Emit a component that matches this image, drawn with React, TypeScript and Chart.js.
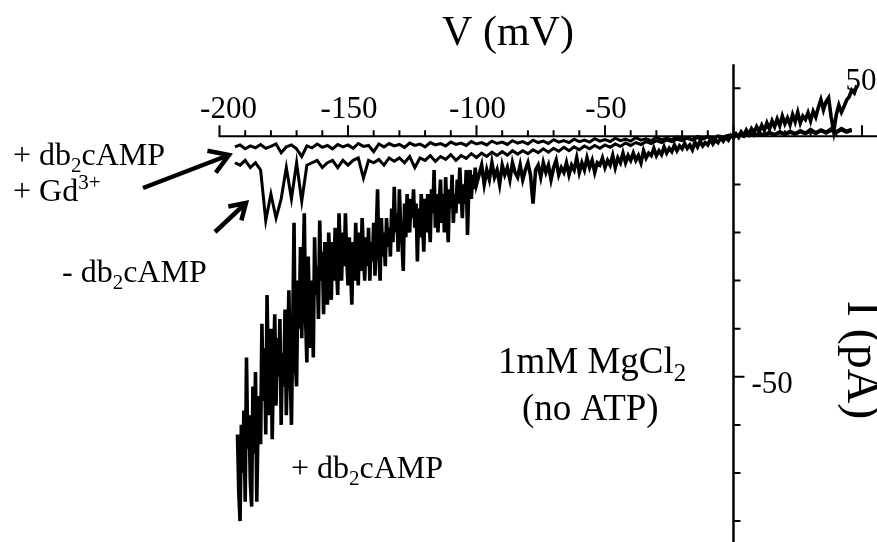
import React, { useEffect, useRef } from "react";
import { Chart, registerables } from "chart.js";

Chart.register(...registerables);

// ---------- data (V in mV, I in pA) ----------
// "+ db2cAMP" trace
const traceC_V = [
  -193, -192.5, -192, -191.5, -191, -190.5, -190, -189.5, -189, -188.5,
  -188, -187.5, -187, -186.5, -186, -185.5, -185, -184.5, -184, -183.5,
  -183, -182.5, -182, -181.5, -181, -180.5, -180, -179.5, -179, -178.5,
  -178, -177.5, -177, -176.5, -176, -175.5, -175, -174.5, -174, -173.5,
  -173, -172.5, -172, -171.5, -171, -170.5, -170, -169.5, -169, -168.5,
  -168, -167.5, -167, -166.5, -166, -165.5, -165, -164.5, -164, -163.5,
  -163, -162.5, -162, -161.5, -161, -160.5, -160, -159.5, -159, -158.5,
  -158, -157.5, -157, -156.5, -156, -155.5, -155, -154.5, -154, -153.5,
  -153, -152.5, -152, -151.5, -151, -150.5, -150, -149.5, -149, -148.5,
  -148, -147.5, -147, -146.5, -146, -145.5, -145, -144.5, -144, -143.5,
  -143, -142.5, -142, -141.5, -141, -140.5, -140, -139.5, -139, -138.5,
  -138, -137.5, -137, -136.5, -136, -135.5, -135, -134.5, -134, -133.5,
  -133, -132.5, -132, -131.5, -131, -130.5, -130, -129.5, -129, -128.5,
  -128, -127.5, -127, -126.5, -126, -125.5, -125, -124.5, -124, -123.5,
  -123, -122.5, -122, -121.5, -121, -120.5, -120, -119.5, -119, -118.5,
  -118, -117.5, -117, -116.5, -116, -115.5, -115, -114.5, -114, -113.5,
  -113, -112.5, -112, -111.5, -111, -110.5, -110, -109.5, -109, -108.5,
  -108, -107.5, -107, -106.5, -106, -105.5, -105, -104.5, -104, -103.5,
  -103, -102.5, -102, -101.5, -101, -100.5, -100,
  -99, -98, -97, -96, -95, -94, -93, -92, -91, -90,
  -89, -88, -87, -86, -85, -84, -83, -82, -81, -80,
  -79, -78, -77, -76, -75, -74, -73, -72, -71, -70,
  -69, -68, -67, -66, -65, -64, -63, -62, -61, -60,
  -59, -58, -57, -56, -55, -54, -53, -52, -51, -50,
  -49, -48, -47, -46, -45, -44, -43, -42, -41, -40,
  -39, -38, -37, -36, -35, -34, -33, -32, -31, -30,
  -29, -28, -27, -26, -25, -24, -23, -22, -21, -20,
  -19, -18, -17, -16, -15, -14, -13, -12, -11, -10,
  -9, -8, -7, -6, -5, -4, -3, -2, -1, 0,
  1, 2, 3, 4, 5, 6, 7, 8, 9, 10,
  11, 12, 13, 14, 15, 16, 17, 18, 19, 20,
  21, 22, 23, 24, 25, 26, 27, 28, 29, 30,
  31, 32, 33, 34, 35, 36, 37, 38, 39, 40,
  41, 42, 43, 44, 45, 46, 47, 48,
];
const traceC_I = [
  -62, -74, -80, -60, -70, -57, -76, -46, -65, -58,
  -72, -77, -52, -66, -49, -76, -60, -54, -64, -39,
  -55, -44, -62, -33, -50, -58, -40, -63, -48, -37,
  -56, -42, -50, -38, -60, -45, -52, -36, -58, -44,
  -32, -50, -60, -40, -18, -47, -52, -30, -40, -23,
  -42, -28, -16, -38, -47, -25, -35, -44, -30, -46,
  -21, -33, -27, -38, -17.5, -30, -24, -37, -22, -32,
  -35, -20, -28, -34, -22, -30, -19, -27, -33, -16,
  -24, -30, -20, -27, -16, -25, -31, -21, -28, -35,
  -22, -30, -18, -26, -31, -20, -28, -17, -24, -30,
  -21, -27, -19, -30, -22, -26, -18, -29, -20, -11,
  -24, -30, -17, -25, -20, -27, -17, -23, -19, -25,
  -15, -22, -10.5, -20, -16, -24, -11, -19, -22, -28,
  -14, -21, -12, -18, -20, -13, -17, -11, -19, -14,
  -26, -15, -21, -12, -18, -24, -13, -20, -12, -17,
  -22, -11, -16, -7, -19, -12, -20, -14, -9, -18,
  -12, -20, -8.5, -16, -22, -11, -15, -8, -18, -12,
  -16, -9, -14, -6.5, -12, -17, -10, -14, -7, -20.5,
  -11, -7, -13, -8, -11, -6.5, -10,
  -8, -6, -10, -7, -9, -5.5, -8.5, -7, -10, -6,
  -8, -6.5, -9, -5.5, -7.5, -8.5, -6, -9, -7, -5.5,
  -8, -14, -7, -6, -8.5, -5.5, -7.5, -6, -9, -6.5,
  -5, -8, -6.5, -7.5, -5.5, -8, -6, -7, -4.5, -7.5,
  -5.5, -7, -4.5, -6.5, -5, -7.5, -5.5, -6, -4.5, -6.5,
  -5, -6, -4, -6.5, -4.5, -5.5, -3.5, -5.5, -4, -5,
  -3.5, -5, -4, -5.5, -3, -4.5, -3.5, -4, -2.5, -4,
  -3, -3.8, -2.2, -3.5, -2.5, -3.2, -1.8, -3, -2, -2.6,
  -1.5, -2.5, -1.8, -2.8, -1.2, -2.2, -1, -2, -1.3, -1.8,
  -0.6, -1.6, -0.8, -1.3, -0.3, -1, -0.2, -0.8, 0.2, -0.3,
  0.5, -0.2, 0.9, 0.2, 1.3, 0.4, 1.6, 0.8, 2, 1,
  2.3, 1.2, 2.8, 1.5, 3.2, 2, 3.6, 2.2, 4.2, 2.6,
  3.8, 2.4, 4.5, 3, 5, 2.8, 4.2, 3.5, 4.9, 3.2,
  5.2, 4, 6, 7.6, 5.5, 7.2, 8, 4, 1, 4.5,
  6.5, 5, 6.2, 7.5, 8.2, 9.6, 9, 10.6,
];

// voltage samples shared by the "- db2cAMP" and "+ db2cAMP + Gd3+" traces
const vGridAB = [
  -194, -192, -190, -188, -186, -184, -182, -180, -178, -176,
  -174, -172, -170, -168, -166, -164, -162, -160, -158, -156,
  -154, -152, -150, -148, -146, -144, -142, -140, -138, -136,
  -134, -132, -130, -128, -126, -124, -122, -120, -118, -116,
  -114, -112, -110, -108, -106, -104, -102, -100, -98, -96,
  -94, -92, -90, -88, -86, -84, -82, -80, -78, -76,
  -74, -72, -70, -68, -66, -64, -62, -60, -58, -56,
  -54, -52, -50, -48, -46, -44, -42, -40, -38, -36,
  -34, -32, -30, -28, -26, -24, -22, -20, -18, -16,
  -14, -12, -10, -8, -6, -4, -2, 0, 2, 4,
  6, 8, 10, 12, 14, 16, 18, 20, 22, 24,
  26, 28, 30, 32, 34, 36, 38, 40, 42, 44, 46,
];
// "- db2cAMP" trace
const traceB_I = [
  -5.5, -6, -5, -6.5, -5.5, -7, -17.5, -12, -17, -13,
  -6.5, -13, -5.5, -13.5, -6, -5.5, -5, -6.5, -5.5, -5,
  -6.5, -5, -6, -5, -4.5, -8.7, -5, -5.5, -4.8, -6,
  -4.5, -5.2, -4.5, -5.5, -4.2, -6.5, -4.5, -5, -4, -5.2,
  -4.2, -4.8, -3.8, -5, -4, -4.6, -3.6, -4.4, -3.5, -4.2,
  -3.3, -4, -3.2, -3.9, -3, -3.7, -3, -3.6, -2.8, -3.4,
  -2.6, -3.3, -2.5, -3.1, -2.3, -3, -2.2, -2.8, -2, -2.6,
  -1.9, -2.5, -1.8, -2.3, -1.6, -2.1, -1.4, -1.9, -1.3, -1.7,
  -1.1, -1.5, -0.9, -1.3, -0.8, -1.1, -0.6, -0.9, -0.4, -0.8,
  -0.3, -0.6, -0.1, -0.5, 0, -0.3, 0.2, -0.1, 0.4, 0.1,
  0.6, 0.2, 0.7, 0.3, 0.9, 0.4, 1, 0.5, 1.1, 0.6,
  1.2, 0.7, 1.5, 0.8, 1.4, 0.9, 1.6, 1, 1.7, 1.1, 1.5,
];
// "+ db2cAMP + Gd3+" trace
const traceA_I = [
  -2.2, -1.8, -2.6, -2.0, -2.4, -1.7, -2.5, -2.1, -1.6, -3.4,
  -2.2, -1.8, -2.6, -4.2, -2.0, -2.4, -1.6, -2.3, -1.9, -2.6,
  -1.7, -2.2, -1.8, -2.5, -1.5, -2.1, -1.9, -3.2, -1.6, -2.2,
  -1.5, -2.0, -1.7, -2.3, -1.4, -1.9, -1.6, -2.2, -1.3, -1.8,
  -1.5, -2.0, -1.2, -1.7, -1.4, -1.9, -1.1, -1.6, -1.3, -1.8,
  -1.0, -1.5, -1.2, -1.7, -0.9, -1.4, -1.1, -1.6, -0.8, -1.3,
  -1.0, -1.5, -0.7, -1.2, -0.9, -1.3, -0.6, -1.1, -0.8, -1.2,
  -0.5, -1.0, -0.7, -1.1, -0.4, -0.9, -0.6, -1.0, -0.3, -0.8,
  -0.5, -0.9, -0.2, -0.7, -0.4, -0.7, -0.1, -0.5, -0.3, -0.6,
  0, -0.4, -0.1, -0.4, 0.1, -0.2, 0.2, -0.1, 0.3, 0,
  0.4, 0.1, 0.5, 0.2, 0.6, 0.3, 0.7, 0.3, 0.8, 0.4,
  0.9, 0.5, 1.0, 0.5, 1.1, 0.6, 1.2, 0.7, 1.3, 0.8, 1.2,
];

// ---------- axes ----------
const xMajorTicks = [-200, -150, -100, -50, 0, 50];
const xMinorTicks = [-190, -180, -170, -160, -140, -130, -120, -110, -90, -80, -70, -60, -40, -30, -20, -10, 10, 20, 30, 40];
const xLabelValues = [-200, -150, -100, -50];
const xLabels = ["-200", "-150", "-100", "-50"];
const xEndLabelValue = 50;
const xEndLabel = "50";
const yMajorTicks = [-50];
const yMinorTicks = [10, -10, -20, -30, -40, -60, -70, -80];
const yLabelValues = [-50];
const yLabels = ["-50"];
const xAxisStart = -200;
const yAxisTop = 15;

const X_MIN = -285.41;
const X_MAX = 55.84;
const Y_MIN = -84.35;
const Y_MAX = 28.34;

const FONT = '"Liberation Serif", "Times New Roman", serif';

type Part = { t: string; s: number; dy?: number };

function drawRich(ctx: CanvasRenderingContext2D, parts: Part[], x: number, y: number) {
  let cx = x;
  for (const p of parts) {
    ctx.font = `${p.s}px ${FONT}`;
    ctx.fillText(p.t, cx, y + (p.dy || 0));
    cx += ctx.measureText(p.t).width;
  }
}

function arrow(ctx: CanvasRenderingContext2D, x1: number, y1: number, x2: number, y2: number, head: number) {
  const a = Math.atan2(y2 - y1, x2 - x1);
  const spread = (32 * Math.PI) / 180;
  ctx.beginPath();
  ctx.moveTo(x1, y1);
  ctx.lineTo(x2, y2);
  ctx.moveTo(x2 - head * Math.cos(a - spread), y2 - head * Math.sin(a - spread));
  ctx.lineTo(x2, y2);
  ctx.lineTo(x2 - head * Math.cos(a + spread), y2 - head * Math.sin(a + spread));
  ctx.stroke();
}

const customAxes = {
  id: "customAxes",
  beforeDatasetsDraw(chart: any) {
    const ctx: CanvasRenderingContext2D = chart.ctx;
    const xs = chart.scales.x;
    const ys = chart.scales.y;
    const y0 = ys.getPixelForValue(0);
    const x0 = xs.getPixelForValue(0);
    ctx.save();
    ctx.strokeStyle = "#000";
    ctx.fillStyle = "#000";
    ctx.lineCap = "butt";
    // x axis
    ctx.lineWidth = 2;
    ctx.beginPath();
    ctx.moveTo(xs.getPixelForValue(xAxisStart) - 1, y0);
    ctx.lineTo(chart.chartArea.right, y0);
    ctx.stroke();
    ctx.beginPath();
    for (const v of xMajorTicks) {
      const px = xs.getPixelForValue(v);
      ctx.moveTo(px, y0);
      ctx.lineTo(px, y0 - 11);
    }
    for (const v of xMinorTicks) {
      const px = xs.getPixelForValue(v);
      ctx.moveTo(px, y0);
      ctx.lineTo(px, y0 - 6);
    }
    ctx.stroke();
    // y axis
    ctx.lineWidth = 2.5;
    ctx.beginPath();
    ctx.moveTo(x0, ys.getPixelForValue(yAxisTop));
    ctx.lineTo(x0, chart.chartArea.bottom);
    ctx.stroke();
    ctx.lineWidth = 2;
    ctx.beginPath();
    for (const v of yMajorTicks) {
      const py = ys.getPixelForValue(v);
      ctx.moveTo(x0, py);
      ctx.lineTo(x0 + 11, py);
    }
    for (const v of yMinorTicks) {
      const py = ys.getPixelForValue(v);
      ctx.moveTo(x0, py);
      ctx.lineTo(x0 + 7, py);
    }
    ctx.stroke();

    // tick labels
    ctx.font = `31px ${FONT}`;
    ctx.textAlign = "center";
    ctx.textBaseline = "alphabetic";
    xLabelValues.forEach((v, i) => {
      const px = xs.getPixelForValue(v) + (i === 0 ? 9 : 1);
      ctx.fillText(xLabels[i], px, y0 - 18);
    });
    ctx.fillText(xEndLabel, xs.getPixelForValue(xEndLabelValue) - 1, y0 - 46);
    ctx.textAlign = "left";
    yLabelValues.forEach((v, i) => {
      ctx.fillText(yLabels[i], x0 + 18, ys.getPixelForValue(v) + 16);
    });

    // axis titles
    ctx.font = `42px ${FONT}`;
    ctx.textAlign = "center";
    ctx.fillText("V (mV)", 508, 45);
    ctx.save();
    ctx.translate(848, 360);
    ctx.rotate(Math.PI / 2);
    ctx.font = `48px ${FONT}`;
    ctx.textAlign = "center";
    ctx.fillText("I (pA)", 0, 0);
    ctx.restore();
    ctx.restore();
  },
  afterDatasetsDraw(chart: any) {
    const ctx: CanvasRenderingContext2D = chart.ctx;
    ctx.save();
    ctx.fillStyle = "#000";
    ctx.strokeStyle = "#000";
    ctx.textAlign = "left";
    ctx.textBaseline = "alphabetic";
    drawRich(ctx, [{ t: "+ db", s: 32 }, { t: "2", s: 21, dy: 7 }, { t: "cAMP", s: 32 }], 13, 165);
    drawRich(ctx, [{ t: "+ Gd", s: 32 }, { t: "3+", s: 21, dy: -12 }], 13, 201);
    drawRich(ctx, [{ t: "- db", s: 32 }, { t: "2", s: 21, dy: 7 }, { t: "cAMP", s: 32 }], 62, 282);
    drawRich(ctx, [{ t: "1mM MgCl", s: 37 }, { t: "2", s: 25, dy: 8 }], 498, 373);
    drawRich(ctx, [{ t: "(no ATP)", s: 37 }], 522, 420);
    drawRich(ctx, [{ t: "+ db", s: 32 }, { t: "2", s: 21, dy: 7 }, { t: "cAMP", s: 32 }], 291, 478);
    ctx.lineWidth = 4.5;
    ctx.lineCap = "butt";
    ctx.lineJoin = "miter";
    arrow(ctx, 143, 188, 229, 155, 22);
    arrow(ctx, 215, 232, 246, 203, 18);
    ctx.restore();
  },
};

export default function App() {
  const ref = useRef<HTMLCanvasElement | null>(null);
  useEffect(() => {
    document.body.style.margin = "0";
    const canvas = ref.current;
    if (!canvas) return;
    const toPts = (vs: number[], is: number[]) => vs.map((v, i) => ({ x: v, y: is[i] }));
    const common = {
      showLine: true,
      pointRadius: 0,
      borderColor: "#000",
      backgroundColor: "#000",
      tension: 0,
      fill: false,
      borderJoinStyle: "miter" as const,
    };
    const chart = new Chart(canvas, {
      type: "scatter",
      data: {
        datasets: [
          { ...common, label: "+ db2cAMP + Gd3+", data: toPts(vGridAB, traceA_I), borderWidth: 3 },
          { ...common, label: "- db2cAMP", data: toPts(vGridAB, traceB_I), borderWidth: 3 },
          { ...common, label: "+ db2cAMP", data: toPts(traceC_V, traceC_I), borderWidth: 3.6 },
        ],
      },
      options: {
        responsive: false,
        animation: false,
        devicePixelRatio: 1,
        layout: { padding: 0 },
        plugins: { legend: { display: false }, tooltip: { enabled: false }, title: { display: false } },
        scales: {
          x: { type: "linear", min: X_MIN, max: X_MAX, display: false },
          y: { type: "linear", min: Y_MIN, max: Y_MAX, display: false },
        },
      },
      plugins: [customAxes],
    });
    return () => chart.destroy();
  }, []);
  return (
    <canvas ref={ref} width={877} height={542} style={{ display: "block", width: 877, height: 542 }} />
  );
}
